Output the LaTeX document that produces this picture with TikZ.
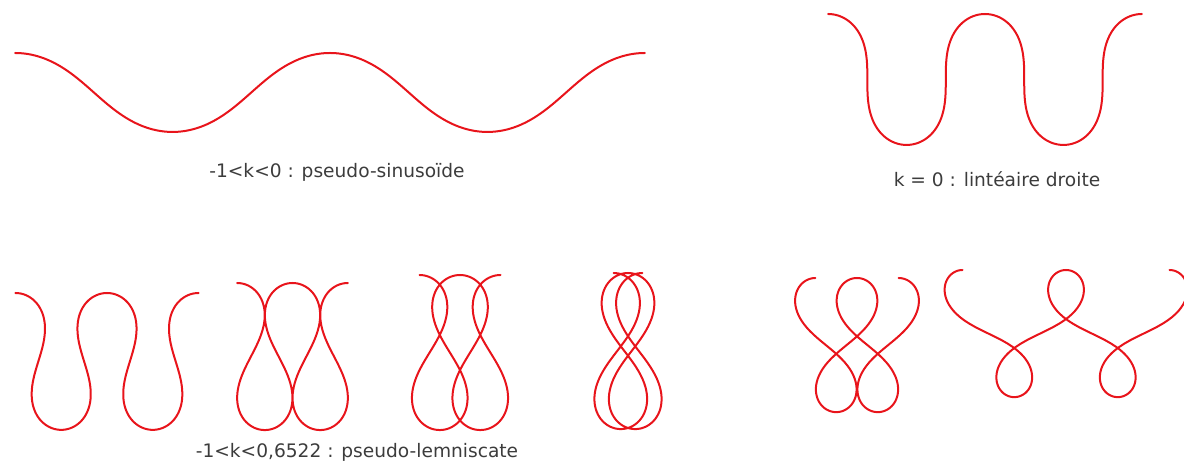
\documentclass[tikz,border=0pt]{standalone}
\usepackage{fontspec}
\setmainfont{DejaVu Sans}
\definecolor{elasRed}{HTML}{E8141B}
\definecolor{elasGray}{HTML}{3C3C3C}

% elastica: modulus, scale, centre x, top y
\newcommand\elastica[4]{%
  \pgfmathsetmacro\elQ{(#1)^2}%
  \xdef\elX{0}%
  \xdef\elPath{(0,#4)}%
  \foreach \elI in {1,...,240}{%
    \pgfmathsetmacro\elS{(sin(3*\elI-1.5))^2}%
    \pgfmathsetmacro\elX{\elX+(1-2*\elQ*\elS)/sqrt(1-\elQ*\elS)*pi/60}%
    \pgfmathsetmacro\elA{#2*\elX}%
    \pgfmathsetmacro\elB{#4+2*#1*#2*(1-cos(3*\elI))}%
    \xdef\elX{\elX}%
    \xdef\elPath{\elPath -- (\elA,\elB)}%
  }%
  \pgfmathsetmacro\elSh{#3-#2*\elX/2}%
  \draw[elas,shift={(\elSh,0)}] \elPath;%
}

\begin{document}
\begin{tikzpicture}[x=0.5pt,y=-0.5pt,
    elas/.style={elasRed,line width=1pt,line join=round,line cap=round},
    lbl/.style={text=elasGray,font=\fontsize{9.3}{11}\selectfont}]
  \useasboundingbox (0,0) rectangle (1184,464);
  % top row
  \elastica{0.355}{55.6}{330}{53}
  \elastica{0.7071}{46.3}{985}{14}
  \node[lbl] (sinus) at (337,172) {-1<k<0 : pseudo-sinusoïde};
  \node[lbl] (droite) at (997,179) {k = 0 : lintéaire droite};
  % bottom row
  \elastica{0.805}{42.5}{107}{293}
  \elastica{0.855}{43}{292.5}{283}
  \elastica{0.873}{44.4}{460}{275}
  \elastica{0.897}{43.5}{628}{273}
  \elastica{0.942}{35.6}{857}{278}
  \elastica{0.975}{32.6}{1066}{270}
  \node[lbl] (lemnis) at (357,452) {-1<k<0,6522 : pseudo-lemniscate};
\end{tikzpicture}
\end{document}
